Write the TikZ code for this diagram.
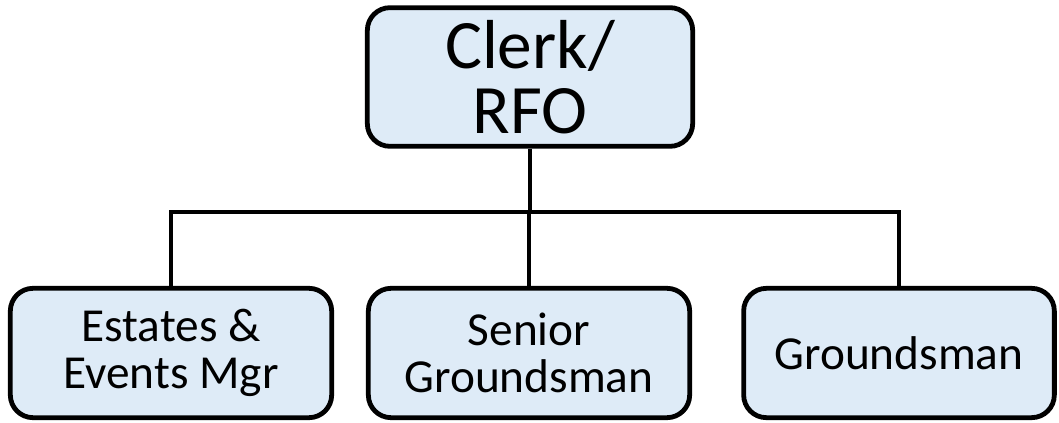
\documentclass[tikz,border=0pt]{standalone}
\usepackage{fontspec}
\setmainfont{Carlito}
\usetikzlibrary{positioning}
\definecolor{boxfill}{HTML}{DEEBF7}
\tikzset{
  post/.style={draw=black, line width=3.6pt, fill=boxfill, rounded corners=17pt,
    align=center, inner sep=0pt},
  link/.style={draw=black, line width=3pt}
}
\begin{document}
\begin{tikzpicture}[x=0.75pt,y=-0.75pt]
\useasboundingbox (0,0) rectangle (1059,423);
\node[post, minimum width=244pt, minimum height=104pt,
  font=\fontsize{52}{49}\selectfont] (clerk) at (530,77) {Clerk/\\RFO};
\node[post, minimum width=241pt, minimum height=97pt,
  font=\fontsize{35.5}{35}\selectfont] (mgr) at (171,353) {Estates \&\\Events Mgr};
\node[post, minimum width=241pt, minimum height=97pt,
  font=\fontsize{35.5}{35}\selectfont] (sgr) at (529,353) {Senior\\Groundsman};
\node[post, minimum width=233pt, minimum height=97pt,
  font=\fontsize{35.5}{35}\selectfont] (grd) at (899,353) {Groundsman};
\coordinate (bus) at (529,212);
\draw[link] (clerk.south) -- (clerk.south |- bus);
\draw[link] (mgr.north) |- (bus) -| (grd.north);
\draw[link] (sgr.north) -- (sgr.north |- bus);
\end{tikzpicture}
\end{document}
